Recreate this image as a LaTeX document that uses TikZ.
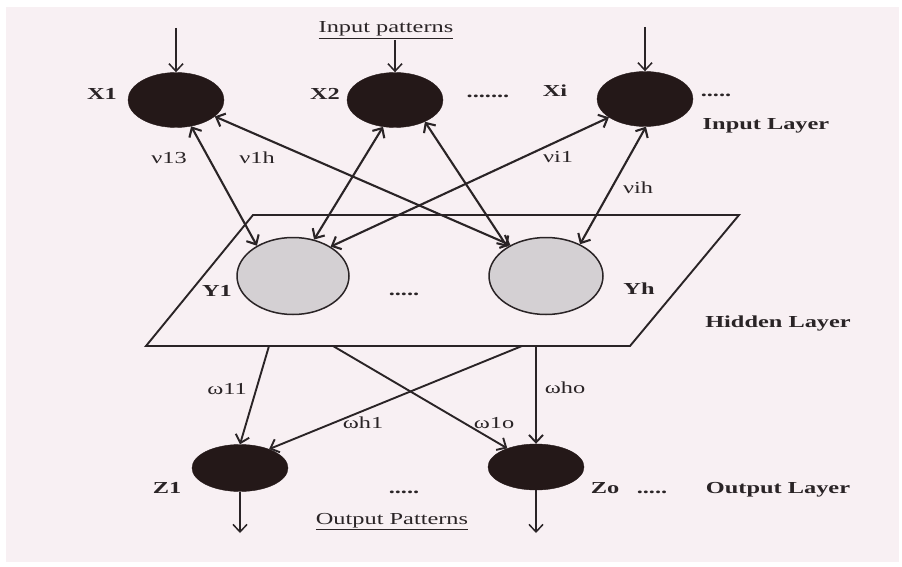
\documentclass[tikz,border=0pt]{standalone}
\usepackage{fontspec}
\setmainfont{Liberation Serif}[FakeStretch=1.45]
\usetikzlibrary{shapes.geometric,arrows.meta}
\definecolor{bgpink}{RGB}{248,240,243}
\definecolor{ink}{RGB}{42,36,38}
\definecolor{darkfill}{RGB}{36,24,24}
\definecolor{hidfill}{RGB}{212,208,211}
\begin{document}
\begin{tikzpicture}[x=1pt,y=-1pt,
  txt/.style={font=\fontsize{16.8}{19}\selectfont, text=ink, inner sep=0pt, anchor=base},
  btxt/.style={font=\fontsize{16.8}{19}\selectfont\bfseries, text=ink, inner sep=0pt, anchor=base},
  dnode/.style={ellipse, draw=darkfill, fill=darkfill, minimum width=96pt, minimum height=55pt, inner sep=0pt},
  hnode/.style={ellipse, draw=ink, line width=1.5pt, fill=hidfill, minimum width=112pt, minimum height=77pt, inner sep=0pt},
  barb/.tip={Straight Barb[length=7.5pt,width=14pt]},
  conn/.style={draw=ink, line width=2.1pt, barb-barb},
  single/.style={draw=ink, line width=1.5pt, -barb},
  oneway/.style={draw=ink, line width=1.9pt, -barb},
  plane/.style={draw=ink, line width=1.9pt, line join=miter}
]
\useasboundingbox (0,0) rectangle (902,567);
\fill[white] (0,0) rectangle (902,567);
\fill[bgpink] (6,7) rectangle (899,562);

% hidden plane
\draw[plane] (253,215) -- (739,215) -- (630,346) -- (146,346) -- cycle;
\coordinate (b1) at (269,346);
\coordinate (b2) at (333,346);
\coordinate (b3) at (522,346);
\coordinate (b4) at (536,346);

% nodes
\node[dnode] (X1) at (176,100) {};
\node[dnode] (X2) at (395,100) {};
\node[dnode] (Xi) at (645,99) {};
\node[hnode] (Y1) at (293,276) {};
\node[hnode, minimum width=114pt] (Yh) at (546,276) {};
\node[dnode, minimum height=47pt] (Z1) at (240,468) {};
\node[dnode, minimum height=46pt] (Zo) at (536,467) {};

% input arrows
\coordinate (i1) at (176,28);
\coordinate (i2) at (395,40);
\coordinate (i3) at (645,27);
\draw[single] (i1) -- (X1.north);
\draw[single] (i2) -- (X2.north);
\draw[single] (i3) -- (Xi.north);

% input-hidden connections
\draw[conn] (X1.300) -- (Y1.140);
\draw[conn] (X1.337) -- (Yh.139);
\draw[conn] (X2.246) -- (Y1.60);
\draw[conn] (X2.324) -- (Yh.143);
\draw[conn] (Xi.207) -- (Y1.38);
\draw[conn] (Xi.272) -- (Yh.43);

% hidden-output connections
\draw[oneway] (b1) -- (Z1.north);
\draw[oneway] (b3) -- (Z1.33);
\draw[oneway] (b2) -- (Zo.147);
\draw[oneway] (b4) -- (Zo.north);

% output arrows
\coordinate (o1) at (240,533);
\coordinate (o2) at (536,533);
\draw[single] (Z1.south) -- (o1);
\draw[single] (Zo.south) -- (o2);

% labels
\node[txt] (lip) at (386,33) {\underline{Input patterns}};
\node[btxt] (lX1) at (102,100) {X1};
\node[btxt] (lX2) at (325,100) {X2};
\node[btxt] (ld1) at (488,98) {.......};
\node[btxt] (lXi) at (555,97) {Xi};
\node[btxt] (ld2) at (716,97) {.....};
\node[btxt] (lIL) at (766,130) {Input Layer};
\node[txt] (lv13) at (169,164) {ν13};
\node[txt] (lv1h) at (257,164) {ν1h};
\node[txt] (lvi1) at (558,163) {νi1};
\node[txt] (lvih) at (638,193) {νih};
\node[btxt] (lY1) at (217,296) {Y1};
\node[btxt] (ld3) at (404,295) {.....};
\node[btxt] (lYh) at (639,294) {Yh};
\node[btxt] (lHL) at (778,327) {Hidden Layer};
\node[txt] (lw11) at (227,394) {ω11};
\node[txt] (lwho) at (565,393) {ωho};
\node[txt] (lwh1) at (363,428) {ωh1};
\node[txt] (lw1o) at (494,428) {ω1o};
\node[btxt] (lZ1) at (167,493) {Z1};
\node[btxt] (ld4) at (404,493) {.....};
\node[btxt] (lZo) at (605,493) {Zo};
\node[btxt] (ld5) at (652,493) {.....};
\node[btxt] (lOL) at (778,493) {Output Layer};
\node[txt] (lop) at (392,524) {\underline{Output Patterns}};
\end{tikzpicture}
\end{document}
